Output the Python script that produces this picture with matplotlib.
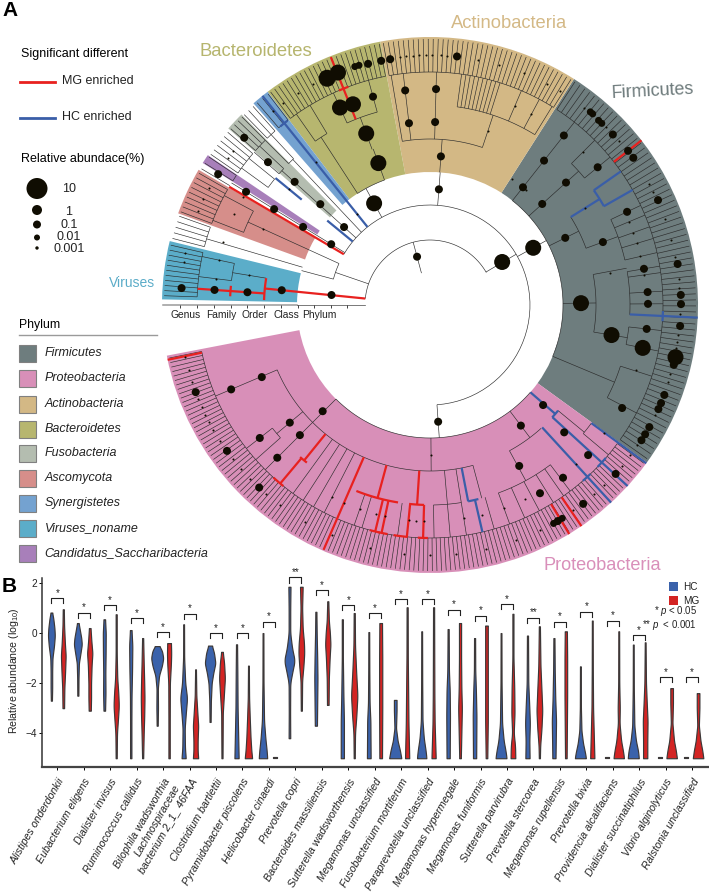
# -*- coding: utf-8 -*-
import numpy as np
import matplotlib
matplotlib.use("Agg")
import matplotlib.pyplot as plt

plt.rcParams['font.family'] = ['Liberation Sans', 'DejaVu Sans']
plt.rcParams['mathtext.fontset'] = 'custom'
plt.rcParams['mathtext.rm'] = 'Liberation Sans'
plt.rcParams['mathtext.it'] = 'Liberation Sans:italic'
plt.rcParams['mathtext.default'] = 'regular'

#======================DATA: TREE=========================================

phyla = ["Firmicutes", "Proteobacteria", "Actinobacteria", "Bacteroidetes", "Fusobacteria",
         "Ascomycota", "Synergistetes", "Viruses_noname", "Candidatus_Saccharibacteria"]
phylum_col = ['#6e7d7e', '#d88fb8', '#d3b885', '#b7b66f', '#b4bdb0',
              '#d68e8a', '#74a2d0', '#5badc9', '#a87fba']
phylum_start = [-36, 190.9, 57.5, 100.7, 134.7, 149.7, 127.3, 166.2, 146]
phylum_end = [57.5, 324, 100.7, 127.3, 138.8, 160, 131.2, 178.8, 148]

# spokes and arcs of the cladogram, degrees, one list per ring
spoke_33 = [105]
arc_65 = [(30, 174.3)]
spoke_65 = [30.5, 161]
arc_100 = [(-86, 149.5), (155.5, 165)]
spoke_100 = [29, 85.6, 118.8, 133.3, 137.8, 148.4, 155.5, 165, 274]
arc_133 = [(-22.7, 51.7), (110, 123), (225, 319)]
spoke_133 = [51.7, 42, 26.4, 0.7, -22.7, 85.8, 110, 123, 133.3, 137.8, 148.4, 155.5, 163.5,
             225, 270.4, 307]
arc_166 = [(20, 32), (-9.4, 10.6), (71.6, 99.6), (203, 246.5), (246.5, 285), (298.6, 312)]
spoke_166 = [51.7, 42, 20, 10.6, -9.4, -22.7, 99.6, 96.6, 88.4, 71.6, 110.4, 123, 133.3, 137.8,
             148.4, 155.5, 163.5, 170.7, 203, 220, 225, 234, 237, 240, 243, 275, 279, 285,
             298.6, 320.5]
arc_200 = [(39.4, 45), (13, 25.3), (-2.8, 9.6), (-11.4, -6.3), (-27.6, -17.8), (58.4, 82.2),
           (105.3, 114.5), (121, 125), (152, 158.7), (168, 173), (218, 221.6), (271, 279),
           (290, 307), (320, 323.8), (133, 135), (137, 139), (141, 144)]
spoke_200 = [51.7, 45, 39.4, 25.3, 22.7, 19.6, 16.6, 13, 9.6, 8, 3.4, 0.3, -6.3, -11.4, -17.8,
             -27.6, 99.6, 96.6, 88.4, 66.9, 62, 58.4, 105.3, 114.5, 121, 125, 133, 135, 137,
             139, 141, 144, 148.4, 152, 158.7, 163.5, 168, 173, 203, 218, 221.6, 225, 234, 237,
             240, 243, 251, 253, 262, 271, 275, 279, 286, 290, 294, 298, 302, 305, 307, 320]
comb_200 = [(82.2, 72.5, 10)]

# runs of equally spaced tips per clade: first angle, last angle, number of tips
tip_first = [57, 100.1, 126.8, 130.5, 134.3, 138.5, 145.5, 147.8, 149.2, 159.5, 165.5, 178, 191.5]
tip_last = [-35.3, 58, 101, 127.5, 131.7, 135, 139.5, 146.2, 149.2, 150.3, 160.5, 167, 323.5]
tip_count = [72, 40, 25, 3, 3, 4, 6, 2, 1, 9, 5, 11, 133]

# enriched branches: angle, inner ring, outer ring
red_spokes = [(174.3, 65, 166), (176, 166, 233), (111.8, 200, 267), (37.9, 233, 268),
              (149.5, 100, 233), (231, 166, 200), (230, 200, 233), (246.5, 166, 267),
              (254.8, 166, 200), (256.4, 200, 233), (258, 200, 233), (266.3, 166, 200),
              (264.3, 200, 233), (268.3, 200, 233), (301.3, 233, 268), (304.4, 233, 268),
              (191.8, 233, 268)]
red_arcs = [(166, 170.7, 178.3), (200, 174.5, 177.5), (233, 110.5, 113), (200, 229.5, 232),
            (233, 227.8, 231), (200, 248.4, 260.8), (233, 255, 257.5), (233, 257.2, 259.5),
            (200, 264, 268.3), (233, 261, 264.5), (233, 267, 269.5)]
blue_spokes = [(128.7, 100, 268), (140.6, 100, 133), (140.6, 166, 200), (32, 166, 200),
               (35, 200, 233), (29.6, 200, 233), (-2.7, 200, 268), (281, 166, 200),
               (283, 200, 233), (312.5, 166, 268), (319, 133, 166), (317.5, 166, 268),
               (323.8, 200, 268)]
blue_arcs = [(233, 127.7, 130), (200, 29.6, 35), (233, -4, -1.5), (200, 281, 284),
             (233, 311, 313.5), (166, 317.4, 320.5), (233, 316, 319)]

# abundance circles: angle, ring position, radius in pixels
nodes = [(105, 50, 4), (30.8, 84, 8), (29, 118, 8), (85.6, 116, 4), (85.8, 149, 4),
         (96.6, 183, 4), (96.6, 216, 4), (88.4, 183, 4), (88.4, 216, 4), (83.8, 250, 4),
         (99.2, 249, 4), (118.8, 116, 8), (110, 151, 8), (110.4, 183, 8), (111, 215, 8),
         (114.5, 217, 8), (114.4, 249, 8.5), (111.6, 250, 8), (105.3, 216, 4), (107.5, 250, 3.5),
         (106.5, 250, 3.5), (104.4, 249, 4), (101.3, 249, 4),
         (137.8, 116, 4), (137.4, 149, 4), (137.7, 183, 4), (138.6, 216, 4), (138, 250, 4),
         (148.4, 116, 4), (148.4, 149, 4), (148.4, 183, 4), (148.4, 216, 4), (148.3, 249, 4),
         (174.2, 99, 4), (174.3, 149, 4), (176, 183, 4), (176, 216, 4), (176.1, 249, 4),
         (51.7, 150, 4), (51.7, 184, 4), (51.7, 216, 4), (42, 151, 4), (42, 183, 4),
         (39.4, 217, 4), (26.4, 151, 4), (20, 184, 4), (25.3, 218, 4), (0.7, 151, 8),
         (-9.4, 184, 8), (-11.4, 217, 8), (-6.3, 218, 4), (9.6, 217, 4), (3.4, 218, 4),
         (0.3, 218, 4), (-28.2, 218, 4), (50.3, 251, 3.5), (49.6, 251, 3.5), (47.6, 250, 3.5),
         (46.6, 250, 3.5), (43, 250, 4), (37.9, 251, 4), (35.9, 251, 4), (24.7, 251, 4),
         (9.4, 251, 4), (2.3, 251, 4), (0.2, 251, 4), (-4.8, 251, 4), (-12, 251, 8),
         (-13.8, 251, 4), (-21, 251, 4), (-23, 251, 4), (-24.5, 251, 4), (-29.1, 251, 4),
         (-31, 251, 4), (-32.6, 251, 4),
         (274, 117, 4), (224.7, 151, 4), (203.2, 183, 4), (203, 216, 4), (220, 183, 4),
         (218, 216, 4), (225, 184, 4), (225, 216, 4), (200.4, 250, 4), (215.7, 250, 4),
         (226.9, 250, 4), (307, 151, 4), (299, 184, 4), (300.3, 218, 4), (307.6, 218, 4),
         (307.6, 251, 4), (300.6, 251, 4), (299.5, 251, 3.5), (301.8, 251, 3.5),
         (318.5, 151, 4), (316.5, 185, 4), (316.5, 218, 4), (317.7, 251, 4)]
small_116 = [128.7]
small_150 = [270.4, 57, 50]
small_183 = [71.6, 155.5, 128.7, 140.6, 170.7, 32, 10]
small_216 = [45, 22.7, 19.6, 16.6, 13, 8, -17.6, 66.9, 62, 155, 163, 168, 173, 150, 266.3,
             264.3, 268.3, 255.5, 258, 279, 284, 290, 296, 312.5, 323.8, 246.5, 251, 243]
small_250 = [97, 95.5, 94, 92.5, 91, 89.5, 87.5, 86, 79, 74, 68, 62, 58.7, 52, 45.4, 41, 29,
             27, 20, 15, 11, 6, 4, -2, -7, -8.5, -10, -16, -18, -26, -34, 126, 122, 118,
             129, 158, 155, 152, 170, 168, 144, 142, 192, 195, 198, 202, 204, 206, 208, 210,
             213, 218, 221, 224, 229, 233, 240, 247, 256, 264, 270, 276, 283, 290, 296, 305,
             311, 314, 320, 323]
axis_ticks = [250, 233, 216, 199, 183, 166, 149, 132, 116, 99, 83]

#======================DATA: VIOLINS======================================

species = ["Alistipes onderdonkii", "Eubacterium eligens", "Dialister invisus", "Ruminococcus callidus",
           "Bilophila wadsworthia", "Lachnospiraceae\nbacterium 2_1_ 46FAA", "Clostridium bartlettii",
           "Pyramidobacter piscolens", "Helicobacter cinaedi", "Prevotella copri",
           "Bacteroides massiliensis", "Sutterella wadsworthensis", "Megamonas unclassified",
           "Fusobacterium mortiferum", "Paraprevotella unclassified", "Megamonas hypermegale",
           "Megamonas funiformis", "Sutterella parvirubra", "Prevotella stercorea",
           "Megamonas rupellensis", "Prevotella bivia", "Providencia alcalifaciens",
           "Dialister succinatiphilus", "Vibrio alginolyticus", "Ralstonia unclassified"]

# outlines as (value, half width)
hc_shapes = [
    [(.82, .03), (.6, .07), (.2, .115), (-.1, .13), (-.5, .1), (-1, .04), (-1.5, .03), (-2.2, .03), (-2.7, .02)],
    [(.4, .03), (.1, .08), (-.2, .13), (-.45, .15), (-.8, .1), (-1.2, .04), (-1.8, .025), (-2.5, .02)],
    [(.55, .03), (0, .055), (-.8, .05), (-1.6, .04), (-2.4, .045), (-3.1, .03)],
    [(.12, .03), (-.5, .06), (-1.5, .05), (-2.5, .03), (-3.5, .025), (-5, .025)],
    [(-.52, .08), (-.7, .18), (-1, .23), (-1.3, .18), (-1.7, .07), (-2.2, .025), (-3, .03), (-3.7, .02)],
    [(.35, .015), (-1, .02), (-2, .06), (-2.6, .13), (-3.1, .09), (-3.8, .04), (-4.6, .05), (-5, .08)],
    [(-.5, .07), (-.8, .15), (-1.2, .2), (-1.6, .12), (-2, .06), (-2.7, .03), (-3.55, .02)],
    [(-.45, .02), (-1.5, .03), (-3, .04), (-4, .06), (-5, .08)],
    [(0, .015), (-2, .02), (-3.5, .04), (-4.2, .09), (-4.7, .14), (-5, .16)],
    [(1.85, .04), (1, .03), (0, .03), (-.6, .1), (-1.1, .2), (-1.5, .12), (-2, .03), (-3.2, .025), (-4.2, .03)],
    [(.85, .02), (0, .03), (-1, .05), (-1.8, .06), (-2.8, .05), (-3.7, .04)],
    [(.55, .02), (-1, .02), (-2.5, .04), (-3.5, .06), (-5, .06)],
    [(.04, .015), (-1.5, .02), (-2.8, .03), (-3.5, .06), (-5, .07)],
    [(-2.67, .05), (-3.1, .05), (-3.8, .03), (-4.3, .09), (-4.7, .18), (-5, .23)],
    [(.07, .015), (-2, .02), (-3.5, .03), (-4.2, .08), (-4.7, .15), (-5, .18)],
    [(.16, .02), (-1.5, .03), (-2.3, .06), (-3.3, .07), (-5, .06)],
    [(-.2, .02), (-1.5, .025), (-2.3, .05), (-3.3, .07), (-5, .06)],
    [(0, .015), (-2, .02), (-3.6, .04), (-4.3, .1), (-4.7, .17), (-5, .21)],
    [(-.1, .02), (-2, .03), (-3, .07), (-3.6, .09), (-4.3, .07), (-5, .08)],
    [(-.2, .02), (-1.5, .03), (-2.6, .05), (-3.5, .08), (-5, .06)],
    [(-1.33, .015), (-3, .02), (-3.9, .04), (-4.4, .1), (-4.8, .18), (-5, .21)],
    [(-4.95, .07), (-5, .07)],
    [(-.46, .015), (-2.2, .02), (-3.7, .04), (-4.3, .1), (-4.7, .18), (-5, .21)],
    [(-4.95, .07), (-5, .07)],
    [(-4.95, .07), (-5, .07)],
]
mg_shapes = [
    [(.95, .02), (.3, .03), (-.4, .06), (-.9, .09), (-1.5, .07), (-2.2, .04), (-3, .03)],
    [(.2, .03), (-.3, .06), (-.8, .1), (-1.3, .07), (-2, .05), (-2.6, .05), (-3.1, .04)],
    [(.75, .02), (-.8, .02), (-1.8, .04), (-2.4, .08), (-2.9, .1), (-3.4, .07), (-4, .03), (-5, .02)],
    [(-.2, .02), (-1.2, .04), (-2, .06), (-2.6, .07), (-3.3, .06), (-4, .04), (-5, .02)],
    [(-.4, .07), (-.8, .08), (-1.2, .07), (-2, .03), (-3.5, .025), (-5, .025)],
    [(-1.45, .015), (-2.5, .03), (-3.2, .07), (-3.7, .1), (-4.3, .08), (-4.7, .08), (-5, .1)],
    [(-.75, .03), (-1.2, .08), (-1.8, .11), (-2.5, .07), (-3.2, .03), (-5, .02)],
    [(-1.3, .015), (-2.6, .025), (-3.4, .05), (-4.2, .08), (-4.7, .11), (-5, .14)],
    [(-4.95, .07), (-5, .07)],
    [(1.85, .05), (1, .03), (.2, .05), (-.4, .1), (-.8, .11), (-1.3, .08), (-1.9, .03), (-3.1, .02)],
    [(1.27, .02), (.5, .04), (0, .08), (-.45, .1), (-1, .07), (-1.8, .04), (-2.87, .03)],
    [(.8, .02), (-.5, .03), (-1.5, .07), (-2.5, .12), (-3.3, .08), (-4, .03), (-5, .02)],
    [(.4, .05), (-1, .06), (-3, .06), (-5, .05)],
    [(1.03, .02), (-1, .025), (-2.5, .04), (-3.6, .05), (-5, .08)],
    [(1.03, .02), (-1, .025), (-2.5, .03), (-3.6, .04), (-5, .08)],
    [(.4, .04), (-1, .04), (-2.2, .05), (-3, .07), (-4, .05), (-5, .03)],
    [(.3, .05), (-1, .05), (-2.5, .05), (-3.5, .05), (-5, .03)],
    [(.77, .02), (-1, .02), (-2.2, .05), (-3.2, .06), (-4, .03), (-4.5, .08), (-5, .09)],
    [(.27, .02), (-1.3, .04), (-2.3, .08), (-3.1, .11), (-3.8, .08), (-4.5, .03), (-5, .02)],
    [(.07, .04), (-1, .05), (-2.5, .05), (-3.8, .04), (-5, .03)],
    [(.5, .015), (-1.5, .02), (-3, .03), (-3.8, .05), (-5, .08)],
    [(.07, .015), (-2, .02), (-3, .04), (-3.6, .03), (-4.3, .09), (-4.7, .16), (-5, .2)],
    [(-.37, .015), (-2, .03), (-2.8, .06), (-3.5, .09), (-4.3, .08), (-5, .08)],
    [(-2.2, .05), (-2.8, .05), (-3.6, .03), (-4.3, .09), (-4.7, .16), (-5, .2)],
    [(-2.4, .05), (-3, .05), (-3.7, .03), (-4.3, .09), (-4.7, .16), (-5, .2)],
]
bracket_y = [1.39, .82, 1.12, .6, .04, .77, 0, 0, .46, 2.22, 1.72, 1.12, .79, 1.36, 1.36, .93, .7,
             1.15, .62, .46, .86, .49, -.09, -1.76, -1.76]
stars = ['**' if i in (9, 18) else '*' for i in range(25)]

#=====================FIGURE==============================================

fig = plt.figure(figsize=(7.09, 8.93), dpi=100)
W, H = 709.0, 893.0

ax = fig.add_axes([160 / W, 1 - 575 / H, 540 / W, 540 / H], projection='polar')
ax.set_ylim(0, 270)
ax.set_axis_off()

ov = fig.add_axes([0, 0, 1, 1])
ov.set_xlim(0, W)
ov.set_ylim(H, 0)
ov.axis('off')
ov.patch.set_alpha(0)


def spoke(a, r1, r2, col='#2b2b2b', lw=0.45, z=3):
    ax.plot(np.radians([a, a]), [r1, r2], color=col, lw=lw, zorder=z, solid_capstyle='butt')


def arc(r, a1, a2, col='#2b2b2b', lw=0.45, z=3):
    t = np.radians(np.linspace(a1, a2, 60))
    ax.plot(t, np.full(60, r), color=col, lw=lw, zorder=z, solid_capstyle='butt')


# rounds the outline a little, the way a density curve looks
def soften(shape):
    vals = np.array(shape)
    if len(vals) < 3:
        return vals[:, 0], vals[:, 1]
    yy = np.linspace(vals[0, 0], vals[-1, 0], 240)
    ww = np.interp(yy, vals[::-1, 0], vals[::-1, 1])
    n = 15
    padded = np.concatenate([np.full(n, ww[0]), ww, np.full(n, ww[-1])])
    ww = np.convolve(padded, np.ones(n) / n, mode='same')[n:-n]
    return yy, ww


for i in range(len(phyla)):
    mid = np.radians((phylum_start[i] + phylum_end[i]) / 2)
    wid = np.radians(phylum_end[i] - phylum_start[i])
    ax.bar(mid, 135, width=wid, bottom=133, color=phylum_col[i], linewidth=0, zorder=1)

for a in spoke_33:
    spoke(a, 33, 65)
for r, spokes, arcs, r2 in [(65, spoke_65, arc_65, 100), (100, spoke_100, arc_100, 133),
                            (133, spoke_133, arc_133, 166), (166, spoke_166, arc_166, 200),
                            (200, spoke_200, arc_200, 233)]:
    for a in spokes:
        spoke(a, r, r2)
    for a1, a2 in arcs:
        arc(r, a1, a2)
for a1, a2, n in comb_200:
    for a in np.linspace(a1, a2, n):
        spoke(a, 200, 233)
for a1, a2, n in zip(tip_first, tip_last, tip_count):
    for a in np.linspace(a1, a2, n):
        spoke(a, 233, 266)
    arc(233, a1, a2)

for a, r1, r2 in red_spokes:
    spoke(a, r1, r2, col='#e8211f', lw=1.6, z=4)
for r, a1, a2 in red_arcs:
    arc(r, a1, a2, col='#e8211f', lw=1.6, z=4)
for a, r1, r2 in blue_spokes:
    spoke(a, r1, r2, col='#3a5ea8', lw=1.6, z=4)
for r, a1, a2 in blue_arcs:
    arc(r, a1, a2, col='#3a5ea8', lw=1.6, z=4)

node_col = '#100d02'
ax.scatter([np.radians(n[0]) for n in nodes], [n[1] for n in nodes],
           s=[(2 * n[2] * 0.72) ** 2 for n in nodes], color=node_col, linewidths=0, zorder=5)
for r, angs in [(116, small_116), (150, small_150), (183, small_183), (216, small_216), (250, small_250)]:
    ax.scatter(np.radians(angs), np.full(len(angs), r), s=2.2, color=node_col, linewidths=0, zorder=5)

# rank axis along the left
ax.plot(np.radians([180, 180]), [133, 267], color='#9a9a9a', lw=1.1, zorder=2)
ax.plot(np.radians([180, 180]), [65, 133], color='#444444', lw=0.5, zorder=2)
ax.plot(np.radians(np.full(len(axis_ticks), 180)), axis_ticks, ls='none', marker=3, ms=1.8,
        mew=0.6, color='#222222', zorder=3)

# panel A texts and legends
ov.text(2, 10, "A", fontsize=15, fontweight='bold', va='center')
ov.text(2, 586, "B", fontsize=15, fontweight='bold', va='center')
ov.text(21, 54, "Significant different", fontsize=9, va='center')
ov.plot([20, 55], [81.5, 81.5], color='#e8211f', lw=2)
ov.plot([20, 55], [117.5, 117.5], color='#3a5ea8', lw=2)
ov.text(62, 81.5, "MG enriched", fontsize=9, va='center', color='#222222')
ov.text(62, 117.5, "HC enriched", fontsize=9, va='center', color='#222222')
ov.text(21, 159, "Relative abundace(%)", fontsize=9, va='center')

size_labels = ["10", "1", "0.1", "0.01", "0.001"]
size_radius = [10.5, 5, 4, 3, 1.7]
size_y = [188.5, 210, 224.5, 237.5, 248]
label_y = [189, 212, 225, 237, 249]
ov.scatter([37] * 5, size_y, s=[(2 * r * 0.72) ** 2 for r in size_radius], color=node_col, linewidths=0)
for lab, y in zip(size_labels, label_y):
    ov.text(69, y, lab, fontsize=9, ha='center', va='center', color='#222222')

ov.text(19, 325, "Phylum", fontsize=8.8, va='center')
ov.plot([19, 157], [334.5, 334.5], color='#9a9a9a', lw=1)
legend_y = [353, 378, 404, 429, 453, 478, 503, 528, 553]
for i in range(9):
    ov.add_patch(plt.Rectangle((18.5, legend_y[i] - 8.5), 17, 17, facecolor=phylum_col[i],
                               edgecolor='#808080', lw=0.8))
    ov.text(44.5, legend_y[i], phyla[i], fontsize=9, style='italic', va='center', color='#222222')

ov.text(256, 52, "Bacteroidetes", fontsize=13.3, color='#b6b56e', ha='center', va='center')
ov.text(509, 23, "Actinobacteria", fontsize=13.2, color='#d4b986', ha='center', va='center')
ov.text(653, 91, "Firmicutes", fontsize=12.9, color='#6e7b7c', ha='center', va='center', rotation=3)
ov.text(602, 565, "Proteobacteria", fontsize=13.1, color='#d98fba', ha='center', va='center')
ov.text(132, 283, "Viruses", fontsize=10, color='#5bacc8', ha='center', va='center')
for lab, x in zip(["Genus", "Family", "Order", "Class", "Phylum"], [186, 221, 255, 286, 319]):
    ov.text(x, 314.5, lab, fontsize=7.4, ha='center', va='center', color='#222222')

#=====================VIOLINS=============================================

y_top, y_bot = 2.2, -5.35
bx = fig.add_axes([42 / W, 1 - 767 / H, (708 - 42) / W, (767 - 578) / H])
xpos = np.arange(len(species))
bx.set_xlim(-0.58, 24.6)
bx.set_ylim(y_bot, y_top)
off = 0.225
blue, red = '#3a62ab', '#d32423'
edge = '#3c3838'

for i in xpos:
    for shape, dx, c in [(hc_shapes[i], -off, blue), (mg_shapes[i], off, red)]:
        yy, ww = soften(shape)
        bx.fill_betweenx(yy, i + dx - ww, i + dx + ww, facecolor=c, edgecolor=edge, lw=0.85,
                         joinstyle='round')
    y = bracket_y[i]
    bx.plot([i - off, i - off, i + off, i + off], [y - 0.2, y, y, y - 0.2], color='#222222',
            lw=0.8, clip_on=False)
    bx.text(i, y + 0.01, stars[i], fontsize=7, ha='center', va='bottom', clip_on=False,
            color='#222222', linespacing=0)

for s in ['top', 'right']:
    bx.spines[s].set_visible(False)
bx.spines['left'].set_linewidth(1.1)
bx.spines['bottom'].set_linewidth(1.6)
bx.spines['left'].set_color('#333333')
bx.spines['bottom'].set_color('#444444')
bx.set_yticks([2, 0, -2, -4])
bx.set_yticklabels(['2', '0', '\u22122', '\u22124'], fontsize=7.2, color='#222222')
bx.set_xticks(xpos)
bx.set_xticklabels(species, fontsize=7.7, style='italic', rotation=60, ha='right',
                   rotation_mode='anchor', color='#222222', linespacing=1.2)
bx.get_xticklabels()[5].set_verticalalignment('center')
bx.get_xticklabels()[5].set_multialignment('center')
bx.tick_params(axis='x', length=2, width=0.7, pad=5)
bx.tick_params(axis='y', length=2, width=0.7, pad=1.5)
bx.set_ylabel("Relative abundance (log$_{10}$)", fontsize=7.6, color='#222222')
bx.yaxis.set_label_coords(-0.031, 0.51)
bx.patch.set_alpha(0)

for y, lab, c in [(586.5, "HC", blue), (600.5, "MG", red)]:
    ov.add_patch(plt.Rectangle((669, y - 4.5), 9, 9, facecolor=c, edgecolor='none'))
    ov.text(683, y, lab, fontsize=7.2, va='center', color='#222222')
ov.text(697, 611.5, "* $\\mathit{p}$ < 0.05", fontsize=6.9, ha='right', va='center', color='#222222')
ov.text(697, 624.5, "** $\\mathit{p}$  < 0.001", fontsize=6.9, ha='right', va='center', color='#222222')

fig.savefig("out.png", dpi=100)
